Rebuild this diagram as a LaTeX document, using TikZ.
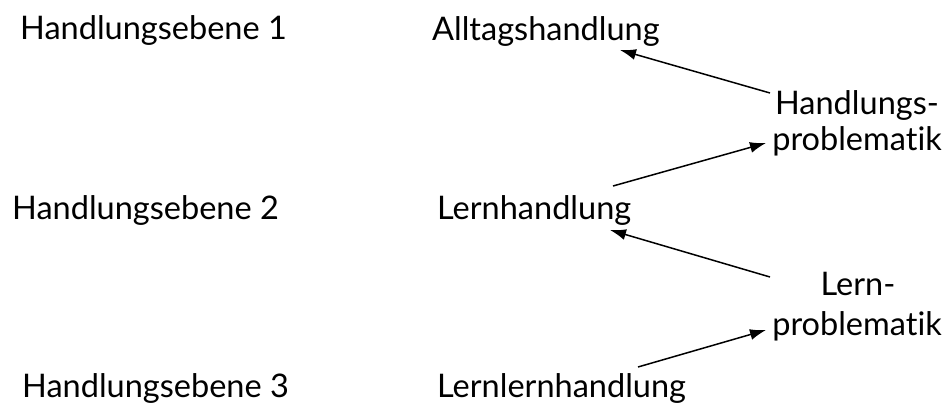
\documentclass[tikz,border=0pt]{standalone}
\usepackage{fontspec}
\setmainfont{Lato}[Ligatures=NoCommon]
\usetikzlibrary{arrows.meta}
\begin{document}
\begin{tikzpicture}[x=1pt,y=-1pt,
  lbl/.style={anchor=base west,inner sep=0pt,font=\fontsize{32.5}{38}\selectfont},
  lblc/.style={anchor=base,inner sep=0pt,font=\fontsize{32.5}{38}\selectfont},
  arr/.style={line width=1.5pt,-{Latex[length=16pt,width=11pt]}}]
\useasboundingbox (0,0) rectangle (948,407);
\node[lbl] (e1) at (20,39) {Handlungsebene 1};
\node[lbl] (e2) at (12,219) {Handlungsebene 2};
\node[lbl] (e3) at (22,397) {Handlungsebene 3};
\node[lbl] (a1) at (432,40) {Alltagshandlung};
\node[lbl] (a2) at (437,219) {Lernhandlung};
\node[lbl] (a3) at (437,397) {Lernlernhandlung};
\node[lblc] (h1) at (857,114) {Handlungs-};
\node[lblc] (h2) at (857,150) {problematik};
\node[lblc] (l1) at (858,295) {Lern-};
\node[lblc] (l2) at (857,335) {problematik};
\coordinate (t1) at (770,93);
\coordinate (p1) at (620,50);
\coordinate (t2) at (613,186);
\coordinate (p2) at (766,143);
\coordinate (t3) at (770,277);
\coordinate (p3) at (610,230);
\coordinate (t4) at (638,367);
\coordinate (p4) at (766,330);
\draw[arr] (t1) -- (p1);
\draw[arr] (t2) -- (p2);
\draw[arr] (t3) -- (p3);
\draw[arr] (t4) -- (p4);
\end{tikzpicture}
\end{document}
